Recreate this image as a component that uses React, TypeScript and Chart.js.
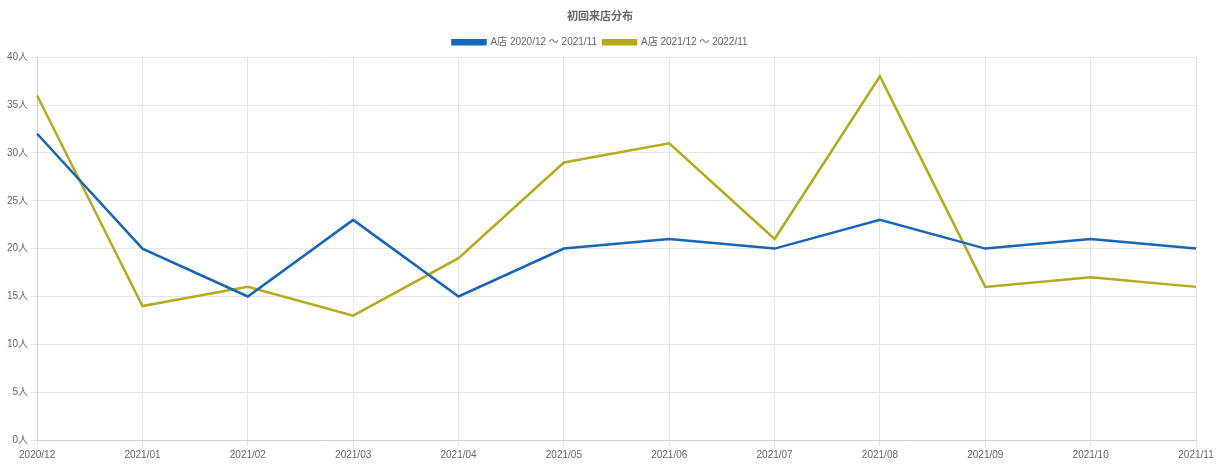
import React, { useEffect, useRef } from "react";
import { Chart, registerables } from "chart.js";

Chart.register(...registerables);

const categories = ["2020/12", "2021/01", "2021/02", "2021/03", "2021/04", "2021/05", "2021/06", "2021/07", "2021/08", "2021/09", "2021/10", "2021/11"];
const seriesA = [32, 20, 15, 23, 15, 20, 21, 20, 23, 20, 21, 20];
const seriesB = [36, 14, 16, 13, 19, 29, 31, 21, 38, 16, 17, 16];
const labelA = "A店 2020/12 ～ 2021/11";
const labelB = "A店 2021/12 ～ 2022/11";
const titleText = "初回来店分布";

export default function App() {
  const ref = useRef<HTMLCanvasElement | null>(null);
  useEffect(() => {
    if (!ref.current) return;
    const font = "'Liberation Sans', 'Noto Sans CJK JP', sans-serif";
    const chart = new Chart(ref.current, {
      type: "line",
      data: {
        labels: categories,
        datasets: [
          { label: labelA, data: seriesA, borderColor: "#1565b8", backgroundColor: "#1565b8", borderWidth: 2.5, pointRadius: 0, tension: 0, fill: false },
          { label: labelB, data: seriesB, borderColor: "#b5a91c", backgroundColor: "#b5a91c", borderWidth: 2.5, pointRadius: 0, tension: 0, fill: false },
        ],
      },
      options: {
        animation: false,
        responsive: false,
        maintainAspectRatio: false,
        layout: { padding: { left: 4, right: 24, top: 1, bottom: 6 } },
        plugins: {
          title: { display: true, text: titleText, color: "#666", font: { family: font, size: 11, weight: "bold" }, padding: { top: 9, bottom: 8 } },
          legend: {
            labels: { color: "#666", font: { family: font, size: 10, lineHeight: 1 }, boxWidth: 33, boxHeight: 4, padding: 6 },
          },
          tooltip: { enabled: false },
        },
        scales: {
          x: {
            offset: false,
            grid: { color: "#e6e6e6", tickLength: 6 },
            ticks: { color: "#666", font: { family: font, size: 10 }, maxRotation: 0, autoSkip: false },
          },
          y: {
            min: 0,
            max: 40,
            grid: { color: "#e6e6e6", tickLength: 6 },
            ticks: { stepSize: 5, color: "#666", font: { family: font, size: 10, lineHeight: 1 }, callback: (v: any) => v + "人" },
          },
        },
      },
    });
    return () => chart.destroy();
  }, []);
  return (
    <div style={{ position: "absolute", left: 0, top: 0, width: 1220, height: 470, background: "#fff" }}>
      <canvas ref={ref} width={1220} height={470} style={{ width: 1220, height: 470 }} />
    </div>
  );
}
